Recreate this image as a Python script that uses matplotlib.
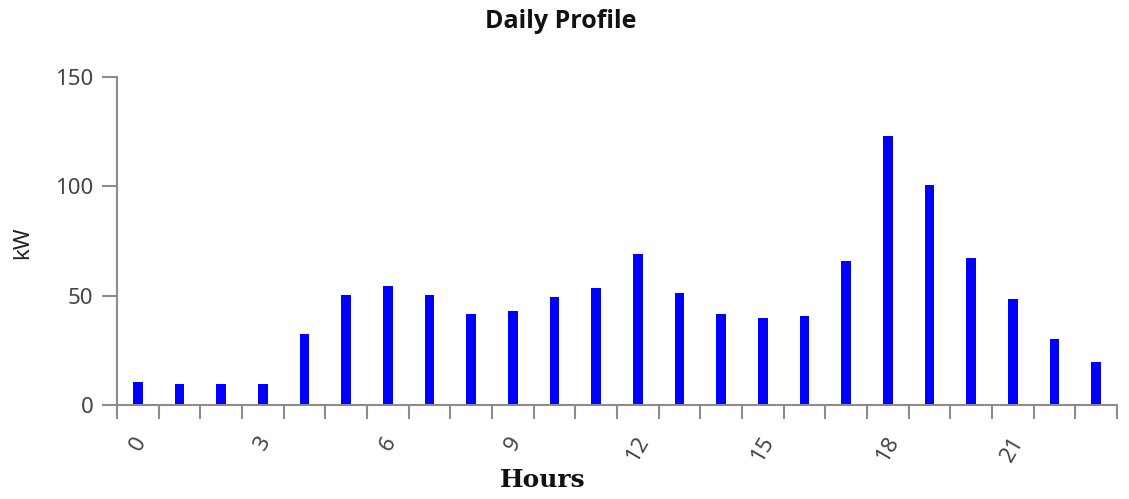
import matplotlib
matplotlib.use("Agg")
import matplotlib.pyplot as plt
import matplotlib.transforms as mtransforms
import numpy as np

# hourly load values
hours = list(range(24))
kw = [10.5, 9.6, 9.6, 9.6, 32.5, 50.3, 54.4, 50.3, 41.6, 43.0, 49.4, 53.5,
      69.0, 51.2, 41.6, 39.8, 40.7, 65.8, 123.0, 100.6, 67.2, 48.5, 30.2, 19.7]
tick_hours = [0, 3, 6, 9, 12, 15, 18, 21]

axis_grey = "#8c8c8c"
text_grey = "#444444"
plt.rcParams["font.family"] = ["Noto Sans", "DejaVu Sans"]

fig = plt.figure(figsize=(11.29, 4.99), dpi=100)
ax = fig.add_axes([117 / 1129, 1 - 405 / 499, 1000 / 1129, 328 / 499])

ax.bar(hours, kw, width=0.23, color="#0000ff", align="center")

ax.set_xlim(-0.5, 23.5)
ax.set_ylim(0, 150)
ax.set_yticks([0, 50, 100, 150])

# tick marks at the hour boundaries, labels every third hour
ax.set_xticks(np.arange(-0.5, 24, 1), minor=True)
ax.set_xticks(tick_hours)
ax.set_xticklabels([str(h) for h in tick_hours], rotation=60, ha="center")
shift = mtransforms.ScaledTranslation(-9 / 100, 0, fig.dpi_scale_trans)
for lab in ax.get_xticklabels():
    lab.set_transform(lab.get_transform() + shift)
ax.tick_params(axis="x", which="major", length=0, pad=20, labelsize=16, labelcolor=text_grey)
ax.tick_params(axis="x", which="minor", length=10, width=1.5, color=axis_grey)
ax.tick_params(axis="y", length=11, width=1.5, color=axis_grey, labelsize=16,
               labelcolor=text_grey, pad=6)

for s in ["top", "right"]:
    ax.spines[s].set_visible(False)
for s in ["left", "bottom"]:
    ax.spines[s].set_color(axis_grey)
    ax.spines[s].set_linewidth(1.5)

fig.text(561 / 1129, 1 - 21 / 499, "Daily Profile", ha="center", va="center",
         fontsize=18, fontweight="bold", family=["Open Sans", "DejaVu Sans"],
         color="#111111")
fig.text(543 / 1129, 1 - 480 / 499, "Hours", ha="center", va="center",
         fontsize=18, fontweight="bold", family="DejaVu Serif", color="#111111")
fig.text(23 / 1129, 1 - 243 / 499, "kW", ha="center", va="center", rotation=90,
         fontsize=16, color="#222222")

fig.savefig("out.png", dpi=100)
